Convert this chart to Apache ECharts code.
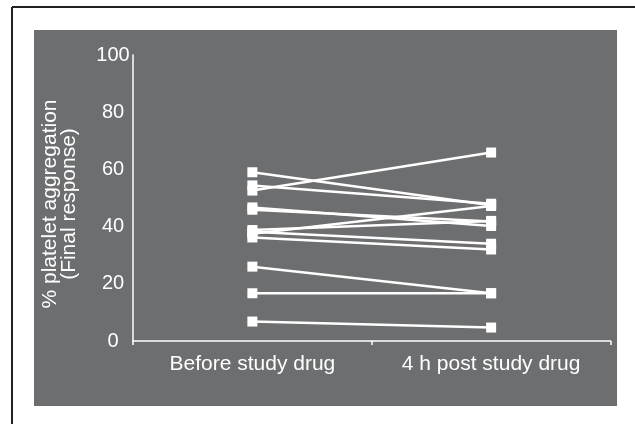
<!DOCTYPE html>
<html>
<head>
<meta charset="utf-8">
<script src="https://cdn.jsdelivr.net/npm/echarts@6/dist/echarts.min.js"></script>
<style>
html,body{margin:0;padding:0;background:#fff;}
#main{width:635px;height:424px;}
</style>
</head>
<body>
<div id="main"></div>
<script>
const categories = ['Before study drug', '4 h post study drug'];
const beforeValues = [59.0, 52.6, 54.4, 46.7, 45.9, 37.5, 38.8, 38.2, 36.2, 26.0, 16.7, 6.8];
const afterValues  = [47.5, 65.9, 48.0, 40.2, 41.8, 47.2, 42.0, 34.0, 32.0, 16.7, 16.7, 4.7];
const yTicks = [0, 20, 40, 60, 80, 100];
const yName = '% platelet aggregation\n(Final response)';

const FONT = '"Liberation Sans", Arial, Helvetica, sans-serif';
const series = beforeValues.map((b, i) => ({
  type: 'line',
  data: [b, afterValues[i]],
  symbol: 'rect',
  symbolSize: 10,
  lineStyle: { color: '#ffffff', width: 2.5 },
  itemStyle: { color: '#ffffff' },
  emphasis: { disabled: true },
  silent: true
}));

const chart = echarts.init(document.getElementById('main'), null, { renderer: 'canvas' });
chart.setOption({
  animation: false,
  backgroundColor: '#ffffff',
  graphic: [
    { type: 'rect', z: -10, shape: { x: 34, y: 30, width: 583, height: 376 }, style: { fill: '#6d6e70' } },
    { type: 'line', z: -10, shape: { x1: 12, y1: 7, x2: 635, y2: 7 }, style: { stroke: '#222222', lineWidth: 2 } },
    { type: 'line', z: -10, shape: { x1: 12, y1: 7, x2: 12, y2: 424 }, style: { stroke: '#222222', lineWidth: 2 } }
  ],
  grid: { left: 133, right: 24.5, top: 55, bottom: 83 },
  xAxis: {
    type: 'category',
    data: categories,
    boundaryGap: true,
    axisLine: { lineStyle: { color: '#ffffff', width: 1.5 } },
    axisTick: { show: true, length: 4, lineStyle: { color: '#ffffff', width: 1.5 } },
    axisLabel: { color: '#ffffff', fontSize: 21, fontFamily: FONT, margin: 13 },
    splitLine: { show: false }
  },
  yAxis: {
    type: 'value',
    min: yTicks[0],
    max: yTicks[yTicks.length - 1],
    interval: 20,
    name: yName,
    nameLocation: 'middle',
    nameGap: 54,
    nameTextStyle: { color: '#ffffff', fontSize: 21, fontFamily: FONT, lineHeight: 19, padding: [0, 12, 0, 0] },
    axisLine: { show: true, lineStyle: { color: '#ffffff', width: 1.5 } },
    axisTick: { show: false },
    axisLabel: { color: '#ffffff', fontSize: 20, fontFamily: FONT, margin: 20, align: 'center' },
    splitLine: { show: false }
  },
  series: series
});
</script>
</body>
</html>
